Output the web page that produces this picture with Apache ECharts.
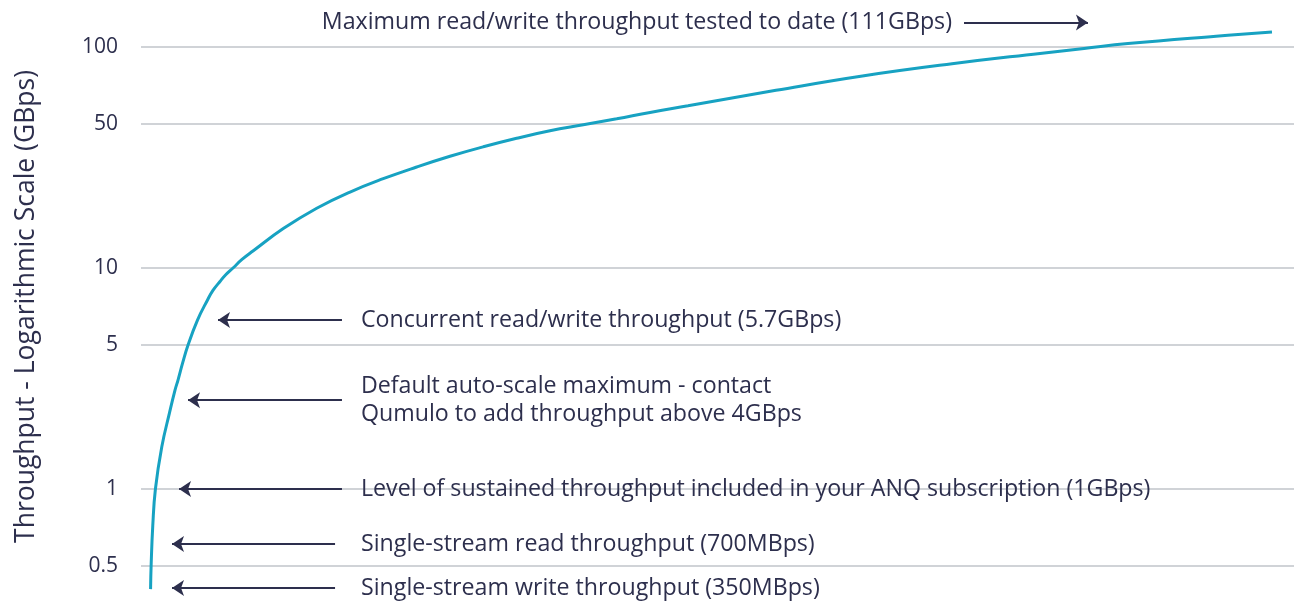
<!DOCTYPE html>
<html>
<head>
<meta charset="utf-8">
<script src="https://cdn.jsdelivr.net/npm/echarts@6/dist/echarts.min.js"></script>
<style>
html,body{margin:0;padding:0;background:#fff;}
#chart{width:1294px;height:601px;}
</style>
</head>
<body>
<div id="chart"></div>
<script>
// ---- Data ----
const yTickValues = [0.5, 1, 5, 10, 50, 100];
const yTickLabels = ['0.5', '1', '5', '10', '50', '100'];
const yAxisTitle = 'Throughput - Logarithmic Scale (GBps)';

// curve: x (arbitrary 0-100 progression), y throughput in GBps
const curveX = [0.83, 0.88, 1.02, 1.25, 1.80, 2.47, 2.95, 3.21, 3.60, 4.08, 4.90, 5.77, 6.24, 6.85, 7.37, 7.98,
  8.76, 9.71, 12.34, 15.24, 18.13, 21.01, 23.91, 26.80, 29.69, 32.58, 35.47, 38.36, 41.26, 44.15, 47.44,
  55.07, 62.71, 70.34, 77.97, 81.79, 85.60, 93.24, 98.09];
const curveY = [0.406, 0.505, 0.717, 1.0, 1.60, 2.34, 3.02, 3.38, 4.07, 5.0, 6.26, 7.50, 8.17, 8.86, 9.43, 10.0,
  11.0, 12.09, 15.53, 19.51, 23.38, 27.13, 30.92, 34.85, 38.75, 42.62, 46.34, 49.55, 52.4, 55.5, 58.9,
  67.7, 77.2, 86.0, 94.4, 98.7, 103.1, 110.2, 114.5];

// annotations
const annTexts = [
  'Maximum read/write throughput tested to date (111GBps)',
  'Concurrent read/write throughput (5.7GBps)',
  'Default auto-scale maximum - contact\nQumulo to add throughput above 4GBps',
  'Level of sustained throughput included in your ANQ subscription (1GBps)',
  'Single-stream read throughput (700MBps)',
  'Single-stream write throughput (350MBps)'
];
const annLevels = [124.7, 6.26, 2.70, 1.0, 0.61, 0.41];
const annFromX = [71.38, 17.43, 17.43, 17.43, 16.83, 16.83];
const annToX = [82.13, 6.68, 4.08, 3.30, 2.69, 2.69];

// ---- scale helpers (axis layout: tick spacing as drawn) ----
const TICK_POS = [0, 77, 221, 298, 442, 519];
function toPos(v) {
  const n = yTickValues.length;
  let i = 0;
  if (v <= yTickValues[0]) i = 0;
  else if (v >= yTickValues[n - 1]) i = n - 2;
  else { while (!(v >= yTickValues[i] && v <= yTickValues[i + 1])) i++; }
  const a = Math.log(yTickValues[i]), b = Math.log(yTickValues[i + 1]);
  return TICK_POS[i] + (Math.log(v) - a) / (b - a) * (TICK_POS[i + 1] - TICK_POS[i]);
}
const tickPositions = yTickValues.map(toPos);

const TEXT = '#2d2f4d';
const FONT = 'Open Sans';

const lineData = curveX.map((x, i) => [x, toPos(curveY[i])]);

const markData = annTexts.map((t, i) => {
  const y = toPos(annLevels[i]);
  const dist = i === 0 ? 12 : (i >= 4 ? 26 : 19);
  return [
    { coord: [annFromX[i], y], symbol: 'none',
      label: { show: true, position: 'start', distance: dist, formatter: t,
               color: TEXT, fontSize: 23.2, fontFamily: FONT, lineHeight: 28 } },
    { coord: [annToX[i], y], symbol: 'arrow' }
  ];
});

const chart = echarts.init(document.getElementById('chart'));
chart.setOption({
  animation: false,
  grid: { left: 141, right: 0, top: 12, bottom: 0, containLabel: false, outerBoundsMode: 'none' },
  xAxis: { type: 'value', min: 0, max: 100, show: false },
  yAxis: {
    type: 'value', min: -35, max: 554,
    name: yAxisTitle, nameLocation: 'middle', nameRotate: 90, nameGap: 101,
    nameTextStyle: { color: TEXT, fontSize: 26.5, fontFamily: FONT },
    axisLine: { show: false },
    axisTick: { show: false, customValues: tickPositions },
    axisLabel: {
      customValues: tickPositions, margin: 23, color: TEXT, fontSize: 21, fontFamily: FONT,
      formatter: (val) => {
        const idx = tickPositions.findIndex(p => Math.abs(p - val) < 0.5);
        return idx >= 0 ? yTickLabels[idx] : '';
      }
    },
    splitLine: { show: true, lineStyle: { color: '#d0d3d7', width: 2 } }
  },
  series: [{
    type: 'line',
    data: lineData,
    smooth: 0.45,
    showSymbol: false,
    clip: false,
    lineStyle: { color: '#17a2c2', width: 3 },
    markLine: {
      silent: true,
      symbol: ['none', 'arrow'],
      symbolSize: 12,
      lineStyle: { color: TEXT, width: 2, type: 'solid' },
      data: markData
    }
  }]
});
</script>
</body>
</html>
